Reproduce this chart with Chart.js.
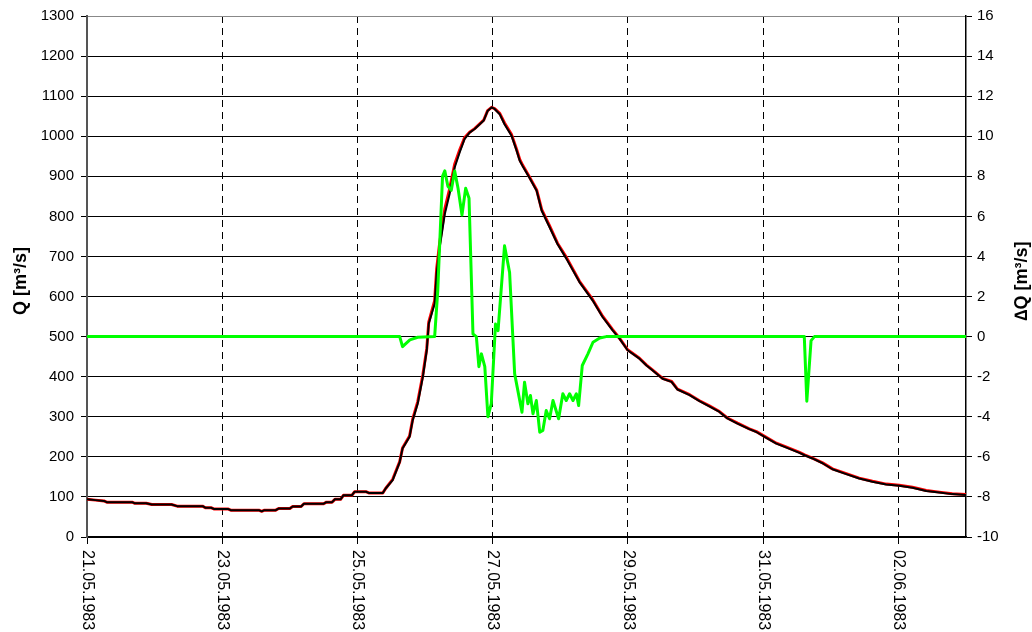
<!DOCTYPE html>
<html>
<head>
<meta charset="utf-8">
<script src="https://cdn.jsdelivr.net/npm/chart.js@4"></script>
<style>
  body { margin: 0; background: #fff; }
  #wrap { width: 1032px; height: 632px; }
</style>
</head>
<body>
<div id="wrap"><canvas id="chart" width="1032" height="632"></canvas></div>
<script>
// Data (time in hours since 21.05.1983 00:00)
const dateLabels = ['21.05.1983', '23.05.1983', '25.05.1983', '27.05.1983', '29.05.1983', '31.05.1983', '02.06.1983'];
const tickHours = [0, 48, 96, 144, 192, 240, 288];

const qHours = [0, 3, 6, 7, 16, 17, 21, 23, 30, 32, 41, 42, 44, 45, 50, 51, 61, 62, 63, 67, 68, 72, 73, 76, 77, 84, 85, 87, 88, 90, 91, 94, 95, 99, 100, 105,
  106, 108.5, 111, 112, 114.5, 115.6, 117.4, 119.2, 120.6, 121.3, 123.4, 124.1, 125.2, 127, 128.7, 130.5, 132.3, 134, 135.8, 137.6, 139.4, 140.8,
  142.2, 143.6, 144.7, 146.5, 148.2, 150.7, 152.5, 153.6, 154.6, 157, 159.6, 161.4, 164.2, 167, 170.2, 174.8, 179.5, 183, 186.5, 189, 191.9,
  196.1, 198.6, 200.7, 204.3, 207.5, 209.6, 213.9, 217.4, 220.9, 224.5, 227.3, 230.9, 235.1, 237.6, 240.5, 244.7, 248.3, 252.9, 254.7, 257.5,
  261.1, 264.6, 269.5, 274.1, 278.8, 283.7, 288.3, 293, 297.9, 302.5, 307.1, 312];
// simulated (black)
const qSim = [94, 92, 90, 87, 87, 84, 84, 81, 81, 77, 77, 73, 73, 70, 70, 67, 67, 64, 67, 67, 71, 71, 76, 76, 83, 83, 87, 87, 94, 94, 104, 104, 113, 113, 110, 110,
  121, 142, 187, 221, 250, 291, 333, 399, 466, 532, 582, 657, 723, 806, 856, 922, 960, 993, 1009, 1018, 1030, 1039,
  1063, 1072, 1068, 1055, 1030, 1001, 964, 939, 926, 897, 864, 814, 773, 731, 694, 636, 590, 549, 516, 495, 466,
  445, 428, 416, 395, 387, 368, 354, 339, 326, 312, 296, 283, 269, 262, 250, 233, 223, 210, 204, 196,
  184, 169, 157, 146, 138, 131, 128, 123, 115, 111, 107, 105];
// observed (red)
const qObs = [94, 92, 90, 87, 87, 84, 84, 81, 81, 77, 77, 73, 73, 70, 70, 67, 67, 64, 67, 67, 71, 71, 76, 76, 83, 83, 87, 87, 94, 94, 104, 104, 113, 113, 110, 110,
  121, 144, 188, 222, 252, 294, 338, 404, 470, 536, 590, 668, 735, 818, 868, 930, 966, 996, 1010, 1019, 1031, 1040,
  1064, 1072, 1069, 1057, 1033, 1004, 967, 942, 928, 899, 866, 817, 776, 733, 697, 638, 592, 551, 518, 496, 467,
  446, 429, 417, 396, 388, 369, 355, 340, 327, 313, 297, 284, 270, 263, 251, 234, 224, 211, 205, 197,
  185, 170, 158, 147, 139, 132, 129, 124, 116, 112, 108, 106];

const dqHours = [0, 111, 112, 114.6, 117.4, 123.4, 124.5, 126.2, 127, 128.1, 129.3, 130.5, 131.7, 133.1, 134.4, 135.6, 137, 138.2, 139.1, 140, 141.2,
  142.3, 143.5, 145, 145.9, 148.2, 150, 151.8, 154.4, 155.3, 156.5, 157.4, 158.3, 159.5, 160.7, 161.8, 163, 164.2, 165.4, 167.4, 168.9,
  170.1, 171.3, 172.5, 173.7, 174.5, 175.8, 177.8, 179.6, 182, 184.3, 254.6, 255.5, 257, 258.2, 312];
const dqValues = [0, 0, -0.5, -0.16, -0.03, 0, 2.3, 8.0, 8.27, 7.5, 7.3, 8.27, 7.4, 6.07, 7.4, 6.9, 0.13, 0, -1.5, -0.86, -1.5,
  -4.0, -3.35, 0.63, 0.3, 4.53, 3.2, -1.86, -3.77, -2.28, -3.35, -2.94, -3.85, -3.19, -4.77, -4.68, -3.69, -4.1, -3.19, -4.1, -2.85,
  -3.19, -2.85, -3.19, -2.85, -3.44, -1.44, -0.86, -0.28, -0.07, 0, 0, -3.22, -0.2, 0, 0];

const toPoints = (xs, ys) => xs.map((x, i) => ({ x: x, y: ys[i] }));
const fontFamily = "'Liberation Sans', Arial, sans-serif";

// Rotated date labels and axis titles
const labelsPlugin = {
  id: 'labelsPlugin',
  afterDraw(chart) {
    const ctx = chart.ctx;
    const xScale = chart.scales.x;
    ctx.save();
    ctx.fillStyle = '#000';
    ctx.font = '16px ' + fontFamily;
    ctx.textAlign = 'left';
    ctx.textBaseline = 'middle';
    tickHours.forEach((h, i) => {
      const px = xScale.getPixelForValue(h);
      ctx.save();
      ctx.translate(px, 550);
      ctx.rotate(Math.PI / 2);
      ctx.fillText(dateLabels[i], 0, 0);
      ctx.restore();
    });
    ctx.font = 'bold 18px ' + fontFamily;
    ctx.textAlign = 'center';
    ctx.save();
    ctx.translate(21, 281);
    ctx.rotate(-Math.PI / 2);
    ctx.fillText('Q [m³/s]', 0, 0);
    ctx.restore();
    ctx.save();
    ctx.translate(1022, 281);
    ctx.rotate(-Math.PI / 2);
    ctx.fillText('∆Q [m³/s]', 0, 0);
    ctx.restore();
    ctx.restore();
  }
};

new Chart(document.getElementById('chart'), {
  type: 'line',
  data: {
    datasets: [
      {
        data: toPoints(dqHours, dqValues),
        borderColor: '#00ff00',
        borderWidth: 3,
        yAxisID: 'y2',
      },
      {
        data: toPoints(qHours, qSim),
        borderColor: '#000000',
        borderWidth: 2,
        yAxisID: 'y',
      },
      {
        data: toPoints(qHours, qObs),
        borderColor: '#ff0000',
        borderWidth: 3,
        yAxisID: 'y',
      },
    ],
  },
  options: {
    responsive: false,
    animation: false,
    events: [],
    layout: { padding: { top: 15, left: 0, right: 0, bottom: 0 } },
    elements: {
      point: { radius: 0 },
      line: { tension: 0, borderJoinStyle: 'round' },
    },
    plugins: {
      legend: { display: false },
      tooltip: { enabled: false },
    },
    scales: {
      x: {
        type: 'linear',
        min: 0,
        max: 312,
        afterFit: (scale) => { scale.height = 95; },
        ticks: { display: false, stepSize: 48, includeBounds: false },
        grid: {
          color: (ctx) => (ctx.tick && ctx.tick.value === 0 ? 'rgba(0,0,0,0)' : '#000'),
          lineWidth: 1,
          tickLength: 7,
          tickColor: '#000',
        },
        border: { color: '#000', width: 1.5, dash: [7, 5] },
      },
      y: {
        position: 'left',
        min: 0,
        max: 1300,
        afterFit: (scale) => { scale.width = 87; },
        ticks: {
          stepSize: 100,
          padding: 7,
          color: '#000',
          font: { family: fontFamily, size: 15 },
          callback: (value) => String(value),
        },
        grid: {
          color: (ctx) => (ctx.tick && ctx.tick.value === 1300 ? '#888' : '#000'),
          lineWidth: 1,
          tickLength: 6,
          tickColor: '#000',
        },
        border: { color: '#555', width: 2 },
      },
      y2: {
        position: 'right',
        min: -10,
        max: 16,
        afterFit: (scale) => { scale.width = 66; },
        ticks: {
          stepSize: 2,
          padding: 5,
          color: '#000',
          font: { family: fontFamily, size: 15 },
          callback: (value) => String(value),
        },
        grid: { drawOnChartArea: false, tickLength: 6, tickColor: '#000' },
        border: { color: '#000', width: 1.5 },
      },
    },
  },
  plugins: [labelsPlugin],
});
</script>
</body>
</html>
